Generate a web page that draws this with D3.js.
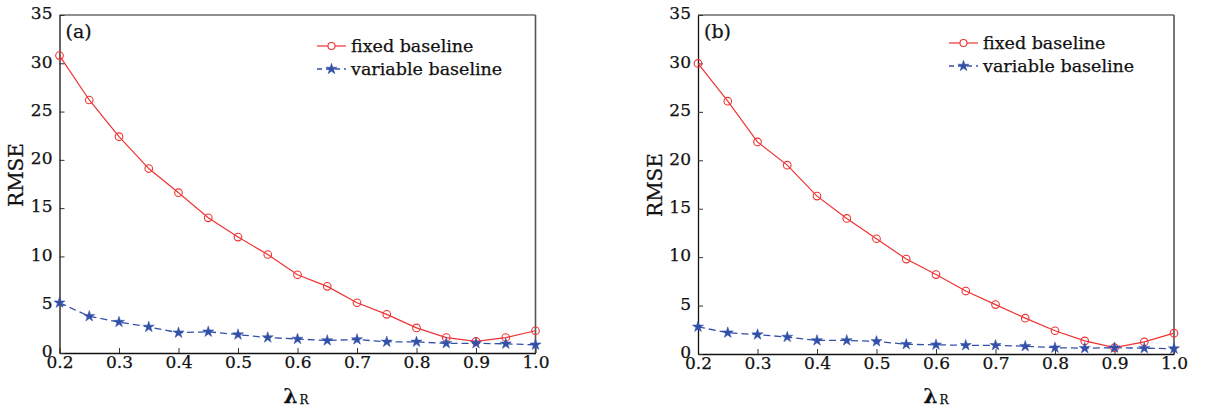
<!DOCTYPE html>
<html><head><meta charset="utf-8">
<script src="https://cdn.jsdelivr.net/npm/d3@7"></script>
<style>body{margin:0;background:#fff}svg{display:block}text{font-family:"DejaVu Serif",serif;fill:#111;stroke:#111;stroke-width:0.25px}</style>
</head><body>
<svg id="c" width="1207" height="412"></svg>
<script>
const lambdaR = [0.2,0.25,0.3,0.35,0.4,0.45,0.5,0.55,0.6,0.65,0.7,0.75,0.8,0.85,0.9,0.95,1.0];
const fixedA = [30.8,26.2,22.4,19.1,16.6,14.0,12.0,10.2,8.1,6.9,5.2,4.0,2.6,1.6,1.2,1.6,2.3];
const variableA = [5.2,3.8,3.2,2.7,2.1,2.2,1.9,1.6,1.45,1.3,1.4,1.15,1.15,1.0,1.0,0.95,0.85];
const fixedB = [30.0,26.1,21.9,19.5,16.3,14.0,11.9,9.8,8.2,6.5,5.1,3.7,2.4,1.35,0.65,1.25,2.15];
const variableB = [2.8,2.2,2.0,1.75,1.4,1.4,1.3,1.0,0.95,0.9,0.9,0.8,0.65,0.6,0.65,0.6,0.55];
const xTicks = [0.2,0.3,0.4,0.5,0.6,0.7,0.8,0.9,1.0];
const yTicks = [0,5,10,15,20,25,30,35];
const seriesNames = ["fixed baseline","variable baseline"];
const panelLabels = ["(a)","(b)"];

const svg = d3.select("#c");
const RED = "#ee3333", BLUE = "#3350a8";

const panels = [
  {x0:59.5, x1:535.5, y0:15, y1:353, fixed:fixedA, variable:variableA, label:panelLabels[0], legX:317, legY:46, xlabX:296, ylabX:23, ylabY:175},
  {x0:698, x1:1174, y0:15, y1:354, fixed:fixedB, variable:variableB, label:panelLabels[1], legX:949, legY:43, xlabX:936, ylabX:662, ylabY:185}
];

panels.forEach(p => {
  const g = svg.append("g");
  const x = d3.scaleLinear().domain([0.2,1.0]).range([p.x0,p.x1]);
  const y = d3.scaleLinear().domain([0,35]).range([p.y1,p.y0]);

  // box
  g.append("line").attr("x1",p.x0).attr("x2",p.x1).attr("y1",p.y0).attr("y2",p.y0).attr("stroke","#222").attr("stroke-width",1.2);
  g.append("line").attr("x1",p.x1).attr("x2",p.x1).attr("y1",p.y0).attr("y2",p.y1).attr("stroke","#555").attr("stroke-width",1.6);

  // axes
  const xa = g.append("g").attr("transform",`translate(0,${p.y1})`)
    .call(d3.axisBottom(x).tickValues(xTicks).tickFormat(d3.format(".1f")).tickSizeInner(-5).tickSizeOuter(0).tickPadding(3));
  const ya = g.append("g").attr("transform",`translate(${p.x0},0)`)
    .call(d3.axisLeft(y).tickValues(yTicks).tickSizeInner(-5).tickSizeOuter(0).tickPadding(7));
  [xa,ya].forEach(a => {
    a.select(".domain").attr("stroke","#111").attr("stroke-width",1.3);
    a.selectAll(".tick line").attr("stroke","#333");
    a.selectAll("text").attr("font-family","DejaVu Serif").attr("font-size",17).attr("fill","#111");
  });
  ya.selectAll(".tick text").attr("dy","0.22em");
  xa.selectAll(".tick text").attr("dy","0.71em");

  // series
  const lineGen = d3.line().x((d,i)=>x(lambdaR[i])).y(d=>y(d));
  g.append("path").datum(p.fixed).attr("d",lineGen).attr("fill","none").attr("stroke",RED).attr("stroke-width",1.2);
  g.append("path").datum(p.variable).attr("d",lineGen).attr("fill","none").attr("stroke",BLUE).attr("stroke-width",1.3).attr("stroke-dasharray","7,4");
  g.selectAll(".cm").data(p.fixed).join("circle").attr("cx",(d,i)=>x(lambdaR[i])).attr("cy",d=>y(d)).attr("r",3.8)
    .attr("fill","none").attr("stroke",RED).attr("stroke-width",1.1);
  const star = d3.symbol().type(d3.symbolStar).size(38);
  g.selectAll(".sm").data(p.variable).join("path").attr("d",star)
    .attr("transform",(d,i)=>`translate(${x(lambdaR[i])},${y(d)})`).attr("fill",BLUE).attr("stroke",BLUE).attr("stroke-width",0.5);

  // panel label
  g.append("text").attr("x",p.x0+6).attr("y",p.y0+23).attr("font-size",19).text(p.label);

  // legend
  const L = g.append("g");
  L.append("line").attr("x1",p.legX).attr("x2",p.legX+29).attr("y1",p.legY).attr("y2",p.legY).attr("stroke",RED).attr("stroke-width",1.2);
  L.append("circle").attr("cx",p.legX+14.5).attr("cy",p.legY).attr("r",3.5).attr("fill","#fff").attr("stroke",RED).attr("stroke-width",1.1);
  L.append("text").attr("x",p.legX+34).attr("y",p.legY+6).attr("font-size",17.5).text(seriesNames[0]);
  L.append("line").attr("x1",p.legX).attr("x2",p.legX+29).attr("y1",p.legY+23).attr("y2",p.legY+23).attr("stroke",BLUE).attr("stroke-width",1.3).attr("stroke-dasharray","5,4");
  L.append("path").attr("d",star).attr("transform",`translate(${p.legX+14.5},${p.legY+23})`).attr("fill",BLUE).attr("stroke",BLUE).attr("stroke-width",0.5);
  L.append("text").attr("x",p.legX+34).attr("y",p.legY+29).attr("font-size",17.5).text(seriesNames[1]);

  // axis labels
  g.append("text").attr("transform",`translate(${p.ylabX},${p.ylabY}) rotate(-90)`).attr("text-anchor","middle").attr("font-size",20).text("RMSE");
  const xl = g.append("text").attr("x",p.xlabX).attr("y",403).attr("text-anchor","middle").attr("font-size",20);
  xl.append("tspan").attr("font-weight","bold").text("λ");
  xl.append("tspan").attr("font-size",12).attr("dx",2).attr("dy",1).text("R");
});
</script>
</body></html>
